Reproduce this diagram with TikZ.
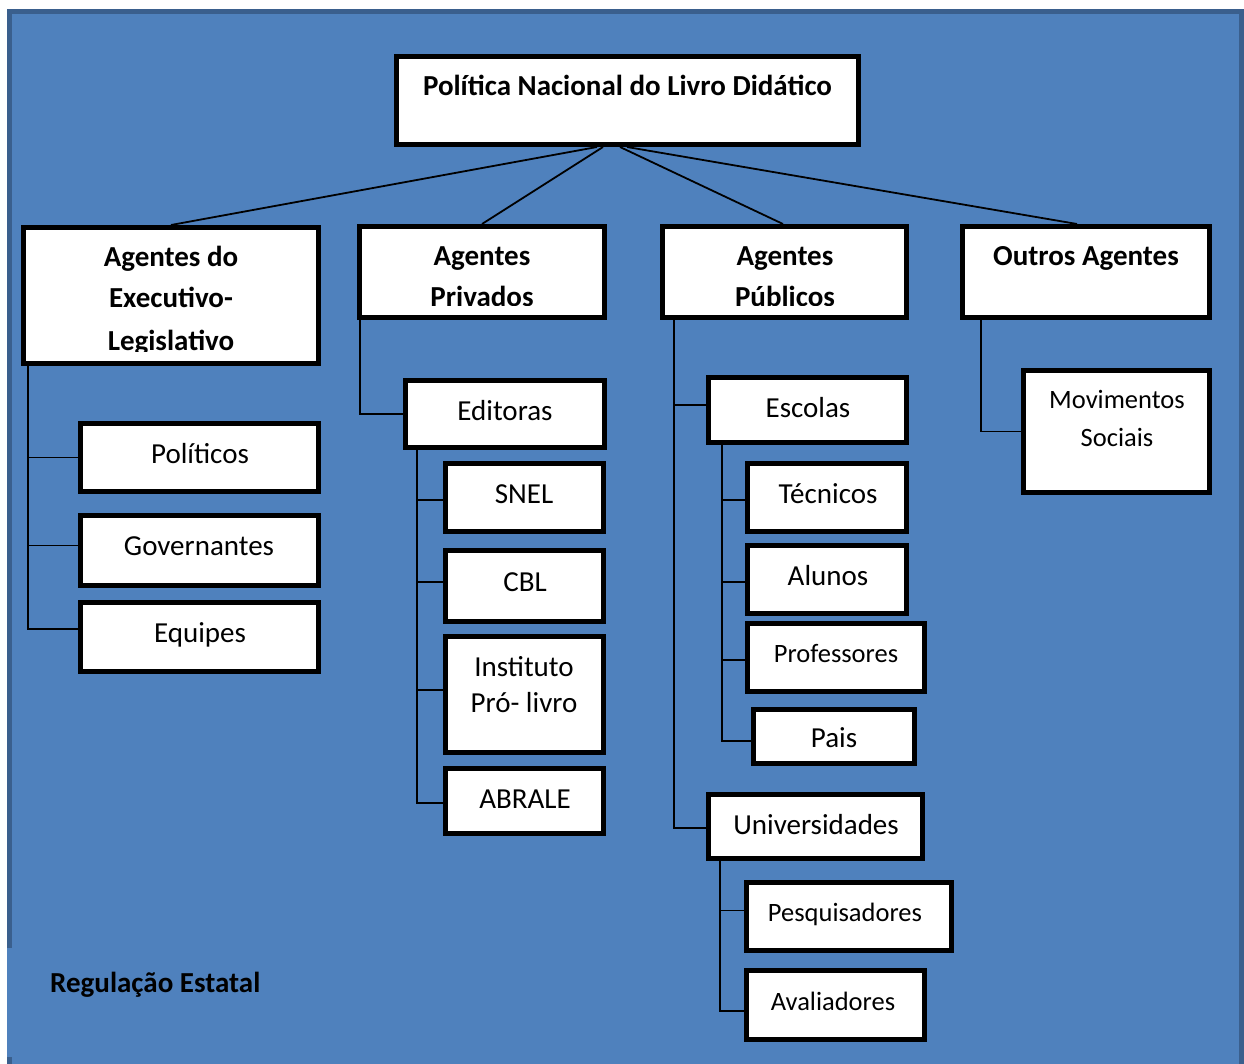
\documentclass[tikz,border=0pt]{standalone}
\usepackage{fontspec}
\setmainfont{Carlito}
\definecolor{bg}{HTML}{4F81BD}
\definecolor{bgdark}{HTML}{3A5F8D}
\begin{document}
\begin{tikzpicture}[x=1pt,y=-1pt,
  bx/.style={draw=black, fill=white, line width=5pt, inner sep=0pt, rectangle},
  link/.style={draw=black, line width=1.8pt},
  hd/.style={font=\fontsize{29}{34}\selectfont\bfseries, anchor=base, inner sep=0pt},
  tx/.style={font=\fontsize{29}{34}\selectfont, anchor=base, inner sep=0pt},
  sm/.style={font=\fontsize{26.5}{31}\selectfont, anchor=base, inner sep=0pt}]
\useasboundingbox (0,0) rectangle (1244,1064);
% background
\fill[bg] (7,9) rectangle (1244,1064);
\draw[bgdark, line width=5pt] (9.5,948) -- (9.5,11.5) -- (1241,11.5) -- (1241,1064);
\draw[bgdark, line width=5pt] (9.5,1057) -- (9.5,1064);

% boxes
\node[bx, minimum width=462, minimum height=88] (pnld) at (627.5,100.5) {};
\node[bx, minimum width=295, minimum height=136] (a1) at (171,295.5) {};
\node[bx, minimum width=245, minimum height=91] (a2) at (482,272) {};
\node[bx, minimum width=244, minimum height=91] (a3) at (784.5,272) {};
\node[bx, minimum width=247, minimum height=91] (a4) at (1086,272) {};
\node[bx, minimum width=238, minimum height=68] (pol) at (199.5,457.5) {};
\node[bx, minimum width=238, minimum height=70] (gov) at (199.5,550.5) {};
\node[bx, minimum width=238, minimum height=69] (equ) at (199.5,637) {};
\node[bx, minimum width=199, minimum height=67] (edi) at (505,414) {};
\node[bx, minimum width=158, minimum height=68] (snel) at (524.5,497.5) {};
\node[bx, minimum width=158, minimum height=71] (cbl) at (524.5,586) {};
\node[bx, minimum width=158, minimum height=116] (ipl) at (524.5,694.5) {};
\node[bx, minimum width=158, minimum height=65] (abr) at (524.5,801) {};
\node[bx, minimum width=198, minimum height=65] (esc) at (807.5,410) {};
\node[bx, minimum width=159, minimum height=68] (tec) at (827,497.5) {};
\node[bx, minimum width=159, minimum height=68] (alu) at (827,579.5) {};
\node[bx, minimum width=177, minimum height=68] (pro) at (836,657.5) {};
\node[bx, minimum width=161, minimum height=54] (pai) at (834,736.5) {};
\node[bx, minimum width=214, minimum height=64] (uni) at (815.5,826.5) {};
\node[bx, minimum width=205, minimum height=68] (pes) at (849,916.5) {};
\node[bx, minimum width=178, minimum height=69] (ava) at (835.5,1005) {};
\node[bx, minimum width=186, minimum height=122] (mov) at (1116.5,431.5) {};

% connectors
\draw[link] ([xshift=-30.5]pnld.south) -- (a1.north);
\draw[link] ([xshift=-24.5]pnld.south) -- (a2.north);
\draw[link] ([xshift=-7.5]pnld.south) -- ([xshift=-1.5]a3.north);
\draw[link] ([xshift=-0.5]pnld.south) -- ([xshift=-9]a4.north);

\draw[link] ([xshift=7]a1.south west) |- (pol.west);
\draw[link] ([xshift=7]a1.south west) |- ([yshift=5]gov.west);
\draw[link] ([xshift=7]a1.south west) |- ([yshift=8]equ.west);

\draw[link] ([xshift=3]a2.south west) |- (edi.west);
\draw[link] ([xshift=14]edi.south west) |- ([yshift=-2.5]snel.west);
\draw[link] ([xshift=14]edi.south west) |- ([yshift=4]cbl.west);
\draw[link] ([xshift=14]edi.south west) |- ([yshift=4.5]ipl.west);
\draw[link] ([xshift=14]edi.south west) |- ([yshift=-2]abr.west);

\draw[link] ([xshift=14]a3.south west) |- ([yshift=5]esc.west);
\draw[link] ([xshift=14]a3.south west) |- ([yshift=-1.5]uni.west);
\draw[link] ([xshift=16]esc.south west) |- ([yshift=-2.5]tec.west);
\draw[link] ([xshift=16]esc.south west) |- ([yshift=-2.5]alu.west);
\draw[link] ([xshift=16]esc.south west) |- ([yshift=-2.5]pro.west);
\draw[link] ([xshift=16]esc.south west) |- ([yshift=-4.5]pai.west);
\draw[link] ([xshift=14]uni.south west) |- ([yshift=6]pes.west);
\draw[link] ([xshift=14]uni.south west) |- ([yshift=-6]ava.west);

\draw[link] ([xshift=21]a4.south west) |- (mov.west);

% texts
\node[hd] (pnldt) at (627.5,96) {Política Nacional do Livro Didático};
\begin{scope}
\clip (23.5,227.5) rectangle (318.5,351);
\node[hd] (a1t1) at (171,267) {Agentes do};
\node[hd] (a1t2) at (171,308) {Executivo-};
\node[hd] (a1t3) at (171,350) {Legislativo};
\end{scope}
\begin{scope}
\clip (359.5,226.5) rectangle (604.5,306);
\node[hd] (a2t1) at (482,266) {Agentes};
\node[hd] (a2t2) at (482,307) {Privados};
\end{scope}
\begin{scope}
\clip (662.5,226.5) rectangle (906.5,306);
\node[hd] (a3t1) at (785,266) {Agentes};
\node[hd] (a3t2) at (785,307) {Públicos};
\end{scope}
\node[hd] (a4t) at (1086,266) {Outros Agentes};

\node[tx] (polt) at (200,463.5) {Políticos};
\node[tx] (govt) at (199,555.5) {Governantes};
\node[tx] (equt) at (200,642.5) {Equipes};
\node[tx] (edit) at (505,420.5) {Editoras};
\node[tx] (snelt) at (524,503.5) {SNEL};
\node[tx] (cblt) at (525,591.5) {CBL};
\node[tx] (iplt1) at (524,676.5) {Instituto};
\node[tx] (iplt2) at (524,712.5) {Pró- livro};
\node[tx] (abrt) at (525,808.5) {ABRALE};
\node[tx] (esct) at (808,417.5) {Escolas};
\node[tx] (tect) at (828,503.5) {Técnicos};
\node[tx] (alut) at (828,585.5) {Alunos};
\node[sm] (prot) at (836,662) {Professores};
\node[tx] (pait) at (834,747) {Pais};
\node[tx] (unit) at (816,834.5) {Universidades};
\node[sm] (pest) at (845,921) {Pesquisadores};
\node[sm] (avat) at (833,1010) {Avaliadores};
\node[sm] (movt1) at (1117,408) {Movimentos};
\node[sm] (movt2) at (1117,446) {Sociais};

\node[hd, anchor=base west] (reg) at (50,992) {Regulação Estatal};
\end{tikzpicture}
\end{document}
